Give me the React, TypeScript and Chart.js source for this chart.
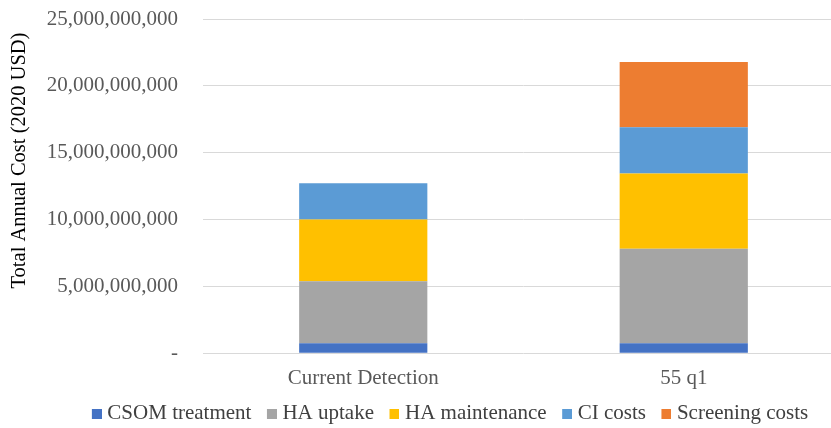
import React, { useEffect, useRef } from "react";
import { Chart, registerables } from "chart.js";

Chart.register(...registerables);

const categories = ["Current Detection", "55 q1"];
const csomTreatment = [0.75e9, 0.75e9];
const haUptake = [4.64e9, 7.06e9];
const haMaintenance = [4.61e9, 5.64e9];
const ciCosts = [2.72e9, 3.45e9];
const screeningCosts = [0, 4.88e9];
const seriesNames = ["CSOM treatment", "HA uptake", "HA maintenance", "CI costs", "Screening costs"];
const seriesColors = ["#4472C4", "#A5A5A5", "#FFC000", "#5B9BD5", "#ED7D31"];
const yTitle = "Total Annual Cost (2020 USD)";

const FONT = "'Liberation Serif', 'Times New Roman', serif";

function makeSwatch(color: string) {
  const c = document.createElement("canvas");
  c.width = 20;
  c.height = 10;
  const ctx = c.getContext("2d")!;
  ctx.fillStyle = color;
  ctx.fillRect(10, 0, 10, 10);
  return c;
}

const shiftLegend = {
  id: "shiftLegend",
  afterLayout(chart: any) {
    const lg = chart.legend;
    if (!lg) return;
    const dx = 24;
    const dy = -12;
    lg.left += dx;
    lg.right += dx;
    lg.top += dy;
    lg.bottom += dy;
  },
};

export default function App() {
  const ref = useRef<HTMLCanvasElement | null>(null);

  useEffect(() => {
    if (!ref.current) return;
    const values = [csomTreatment, haUptake, haMaintenance, ciCosts, screeningCosts];
    const swatches = seriesColors.map(makeSwatch);
    const chart = new Chart(ref.current, {
      type: "bar",
      data: {
        labels: categories,
        datasets: values.map((v, i) => ({
          label: seriesNames[i],
          data: v,
          backgroundColor: seriesColors[i],
          borderWidth: 0,
          barPercentage: 0.4,
          categoryPercentage: 1,
        })),
      },
      plugins: [shiftLegend],
      options: {
        responsive: false,
        animation: false,
        devicePixelRatio: 1,
        layout: { padding: { top: 19, left: 3, right: 0, bottom: -18 } },
        plugins: {
          tooltip: { enabled: false },
          legend: {
            position: "bottom",
            labels: {
              usePointStyle: true,
              pointStyleWidth: 10,
              boxWidth: 10,
              boxHeight: 10,
              padding: 10.5,
              color: "#404040",
              font: { family: FONT, size: 21 },
              generateLabels: (chart: any) => {
                const items = Chart.defaults.plugins.legend.labels.generateLabels(chart);
                return items.map((it: any, i: number) => ({ ...it, pointStyle: swatches[i] }));
              },
            },
          },
        },
        scales: {
          x: {
            stacked: true,
            grid: { display: false, drawTicks: false },
            border: { display: false },
            ticks: {
              color: "#595959",
              padding: 13,
              font: { family: FONT, size: 21 },
            },
          },
          y: {
            stacked: true,
            min: 0,
            max: 25e9,
            grid: { color: "#D9D9D9", lineWidth: 1, drawTicks: true, tickLength: 22, tickColor: "rgba(0,0,0,0)" },
            border: { display: false },
            afterFit: (scale: any) => {
              scale.width = 200;
            },
            ticks: {
              stepSize: 5e9,
              padding: 3,
              color: "#595959",
              font: { family: FONT, size: 21 },
              callback: (v: any) => (Number(v) === 0 ? "-" : Number(v).toLocaleString("en-US")),
            },
            title: {
              display: true,
              text: "\u00A0".repeat(10) + yTitle,
              color: "#000000",
              font: { family: FONT, size: 20.5 },
            },
          },
        },
      },
    });
    return () => chart.destroy();
  }, []);

  return (
    <div style={{ position: "fixed", left: 0, top: 0, width: 831, height: 428, overflow: "hidden", background: "#fff" }}>
      <canvas ref={ref} width={844} height={428} style={{ display: "block" }} />
    </div>
  );
}
